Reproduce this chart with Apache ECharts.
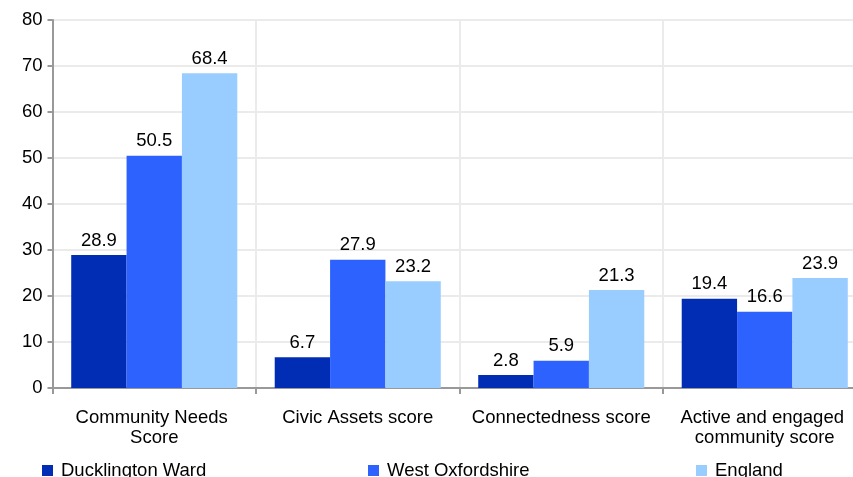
<!DOCTYPE html>
<html>
<head>
<meta charset="utf-8">
<script src="https://cdn.jsdelivr.net/npm/echarts@6/dist/echarts.min.js"></script>
<style>html,body{margin:0;padding:0;background:#fff;}#c{width:853px;height:477px;}</style>
</head>
<body>
<div id="c"></div>
<script>
const categories = ["Community Needs Score", "Civic Assets score", "Connectedness score", "Active and engaged community score"];
const seriesNames = ["Ducklington Ward", "West Oxfordshire", "England"];
const ducklington = [28.9, 6.7, 2.8, 19.4];
const westOxfordshire = [50.5, 27.9, 5.9, 16.6];
const england = [68.4, 23.2, 21.3, 23.9];
const yTicks = [0, 10, 20, 30, 40, 50, 60, 70, 80];

const colors = ["#002db3", "#2d62ff", "#99ccff"];
const font = "Liberation Sans, Arial, sans-serif";
const chart = echarts.init(document.getElementById('c'), null, {renderer: 'canvas'});
const values = [ducklington, westOxfordshire, england];
const legendLefts = [37, 363, 691];
chart.setOption({
  animation: false,
  textStyle: {fontFamily: font},
  legend: seriesNames.map((n, i) => ({
    data: [n], left: legendLefts[i], top: 456, icon: 'rect', itemWidth: 11, itemHeight: 11,
    itemGap: 0, textStyle: {fontSize: 18.5, color: '#000', fontFamily: font, padding: [0, 0, 0, 3]}
  })),
  grid: {left: 52.5, top: 20, width: 814, bottom: 89, containLabel: false, outerBoundsMode: 'none'},
  xAxis: {
    type: 'category', data: categories,
    axisLine: {lineStyle: {color: '#999', width: 2}},
    axisTick: {show: true, length: 6, lineStyle: {color: '#999', width: 2}},
    splitLine: {show: true, lineStyle: {color: '#ebebeb', width: 2}},
    axisLabel: {interval: 0, fontSize: 18.5, color: '#000', margin: 20, width: 195, overflow: 'break', lineHeight: 20, fontFamily: font}
  },
  yAxis: {
    type: 'value', min: yTicks[0], max: yTicks[yTicks.length - 1], interval: 10,
    axisLine: {show: true, lineStyle: {color: '#999', width: 2}},
    axisTick: {show: true, length: 5, lineStyle: {color: '#999', width: 2}},
    splitLine: {show: true, lineStyle: {color: '#ebebeb', width: 2}},
    axisLabel: {fontSize: 18.5, color: '#000', margin: 10, fontFamily: font}
  },
  series: seriesNames.map((n, i) => ({
    name: n, type: 'bar', data: values[i], barGap: '0%', barCategoryGap: '18.4%',
    itemStyle: {color: colors[i]},
    label: {show: true, position: 'top', fontSize: 18.5, color: '#000', distance: 5, fontFamily: font,
      formatter: p => p.value.toFixed(1)}
  }))
});
</script>
</body>
</html>
